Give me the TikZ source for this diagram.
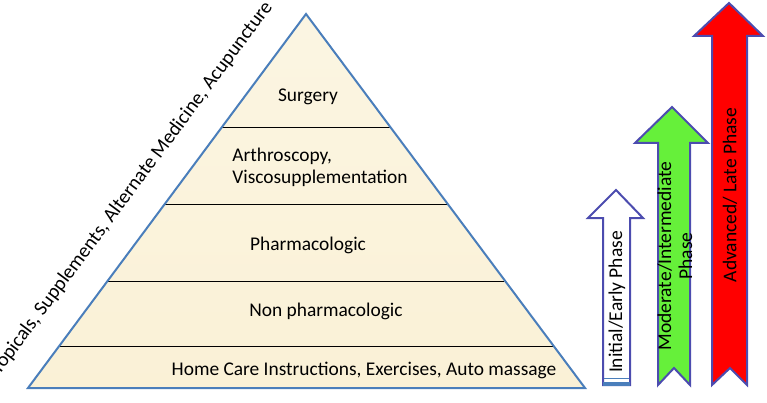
\documentclass[tikz,border=0pt]{standalone}
\usepackage{fontspec}
\setmainfont{Carlito}
\begin{document}
\begin{tikzpicture}[x=1pt,y=-1pt,
  lvl/.style={font=\fontsize{19.4}{22}\selectfont,align=left},
  arr/.style={draw=blue!55!black!70,line width=2pt,line join=miter},
  atext/.style={font=\fontsize{19.5}{21}\selectfont,rotate=90,align=center}]
\useasboundingbox (0,0) rectangle (767,403);
\definecolor{beige}{HTML}{FAF1D6}
\definecolor{edge}{HTML}{4A7EBB}
\definecolor{grn}{HTML}{66F03A}
\coordinate (A) at (306,14); \coordinate (L) at (28,388); \coordinate (R) at (585,388);
\shade[top color=beige!70!white,bottom color=beige] (A)--(L)--(R)--cycle;
\foreach \y in {127,204,281,346}{
  \pgfmathsetmacro{\dx}{(\y-14)*0.7433}
  \draw[black,line width=0.8pt] (306-\dx,\y) -- (306+\dx,\y);}
\draw[edge,line width=2pt,line join=miter] (A)--(L)--(R)--cycle;
\node[lvl] (s) at (308,97) {Surgery};
\node[lvl] (a) at (320,167) {Arthroscopy,\\Viscosupplementation};
\node[lvl] (p) at (308,245) {Pharmacologic};
\node[lvl] (n) at (326,311) {Non pharmacologic};
\node[lvl] (h) at (364,370) {Home Care Instructions, Exercises, Auto massage};
\node[font=\fontsize{20}{22}\selectfont,rotate=53.4] (t) at (132,188) {Topicals, Supplements, Alternate Medicine, Acupuncture};
% arrows
\draw[arr,fill=white] (603,385)--(603,218)--(588,218)--(616,190)--(643,218)--(630,218)--(630,385)--cycle;
\draw[edge,line width=1pt] (604,378)--(629,378);
\fill[edge] (603,382) rectangle (630,386);
\node[atext] (w) at (617,302) {Initial/Early Phase};
\draw[arr,fill=grn] (658,385)--(658,143)--(635,143)--(672,107)--(708,143)--(690,143)--(690,385)--(674,368)--cycle;
\node[atext] (g) at (675,256) {Moderate/Intermediate\\Phase};
\draw[arr,fill=red] (712,385)--(712,36)--(694,36)--(729,3)--(763,36)--(747,36)--(747,385)--(730,368)--cycle;
\node[atext] (r) at (730,195) {Advanced/ Late Phase};
\end{tikzpicture}
\end{document}
